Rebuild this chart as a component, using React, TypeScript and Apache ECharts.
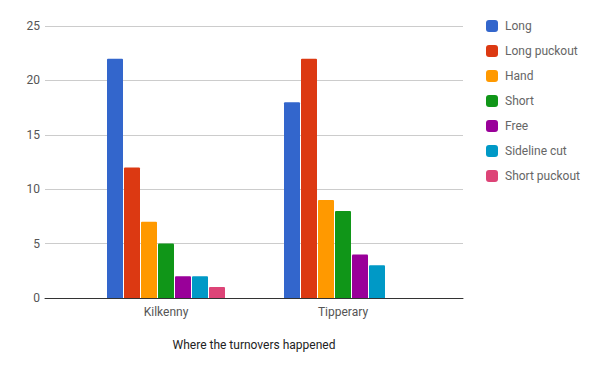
import React, { useEffect, useRef } from "react";
import * as echarts from "echarts";

const categories = ["Kilkenny", "Tipperary"];
const seriesNames = ["Long", "Long puckout", "Hand", "Short", "Free", "Sideline cut", "Short puckout"];
const seriesColors = ["#3366cc", "#dc3912", "#ff9900", "#109618", "#990099", "#0099c6", "#dd4477"];
const kilkennyValues = [22, 12, 7, 5, 2, 2, 1];
const tipperaryValues = [18, 22, 9, 8, 4, 3, 0];
const yTicks = { min: 0, max: 25, interval: 5 };
const xTitle = "Where the turnovers happened";

export default function App() {
  const ref = useRef<HTMLDivElement>(null);
  useEffect(() => {
    if (!ref.current) return;
    const chart = echarts.init(ref.current, undefined, { renderer: "svg" });
    const font = "Roboto, Arial, sans-serif";
    chart.setOption({
      animation: false,
      textStyle: { fontFamily: font },
      grid: [
        { left: 45, right: 137, top: 26, bottom: 73 },
        { left: 77.5, right: 168.5, top: 26, bottom: 73 },
      ],
      legend: {
        orient: "vertical",
        left: 481,
        top: 15,
        itemWidth: 12,
        itemHeight: 12,
        itemGap: 13,
        icon: "roundRect",
        textStyle: { color: "#666", fontSize: 12, fontFamily: font, padding: [0, 0, 0, 2] },
        data: seriesNames,
      },
      xAxis: [
        {
          gridIndex: 0,
          type: "value",
          min: 0,
          max: 1,
          axisLine: { show: true, lineStyle: { color: "#333", width: 1 } },
          axisTick: { show: false },
          axisLabel: { show: false },
          splitLine: { show: false },
          name: xTitle,
          nameLocation: "middle",
          nameGap: 41,
          nameTextStyle: { color: "#222", fontSize: 12, fontFamily: font },
        },
        {
          gridIndex: 1,
          type: "category",
          data: categories,
          axisLine: { show: false },
          axisTick: { show: false },
          axisLabel: { color: "#555", fontSize: 12, margin: 8, fontFamily: font },
        },
      ],
      yAxis: [
        {
          gridIndex: 0,
          type: "value",
          min: yTicks.min,
          max: yTicks.max,
          interval: yTicks.interval,
          axisLine: { show: false },
          axisTick: { show: false },
          axisLabel: { color: "#555", fontSize: 12, margin: 5, fontFamily: font },
          splitLine: { lineStyle: { color: "#cccccc" } },
        },
        {
          gridIndex: 1,
          type: "value",
          min: yTicks.min,
          max: yTicks.max,
          interval: yTicks.interval,
          show: false,
          splitLine: { show: false },
        },
      ],
      series: seriesNames.map((name, i) => ({
        name,
        type: "bar",
        xAxisIndex: 1,
        yAxisIndex: 1,
        barWidth: 16,
        barGap: "6.25%",
        itemStyle: { color: seriesColors[i], borderRadius: [1, 1, 0, 0] },
        data: [kilkennyValues[i], tipperaryValues[i]],
      })),
    });
    return () => chart.dispose();
  }, []);
  return <div ref={ref} style={{ width: 600, height: 371, position: "absolute", left: 0, top: 0 }} />;
}
